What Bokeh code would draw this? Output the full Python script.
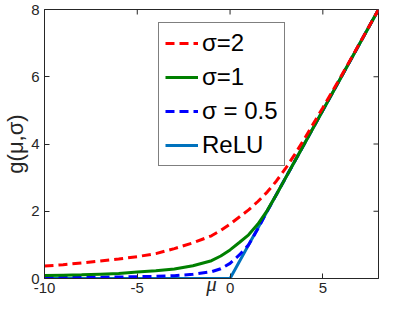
import math
from bokeh.plotting import figure
from bokeh.models import Range1d, FixedTicker, Legend, LegendItem
from bokeh.embed import file_html
from bokeh.resources import INLINE

# ---- data ----
mu = [-10, -9, -8, -7, -6, -5, -4, -3, -2, -1, -0.5, 0, 0.5, 1, 1.5, 2, 2.5, 3, 3.5, 4, 5, 6, 7, 8]
g_sigma2 = [0.37, 0.41, 0.46, 0.52, 0.58, 0.65, 0.74, 0.89, 1.06, 1.27, 1.43, 1.62, 1.83, 2.04, 2.29, 2.57,
            2.90, 3.28, 3.70, 4.15, 5.08, 6.03, 7.01, 8.0]
g_sigma1 = [0.09, 0.10, 0.11, 0.13, 0.15, 0.19, 0.23, 0.28, 0.38, 0.53, 0.67, 0.85, 1.07, 1.30, 1.62, 2.02,
            2.50, 3.0, 3.5, 4.0, 5.0, 6.0, 7.0, 8.0]
g_sigma05 = [0.03, 0.03, 0.035, 0.04, 0.045, 0.055, 0.065, 0.085, 0.125, 0.2, 0.29, 0.45, 0.70, 1.0, 1.48, 2.0,
             2.5, 3.0, 3.5, 4.0, 5.0, 6.0, 7.0, 8.0]
relu_x = [-10, 0, 8]
relu_y = [0, 0, 8]

x_min, x_max = -10, 8
y_min, y_max = 0, 8
x_ticks = [-10, -5, 0, 5]
x_tick_labels = ["-10", "-5", "0", "5"]
y_ticks = [0, 2, 4, 6, 8]
y_tick_labels = ["0", "2", "4", "6", "8"]

legend_labels = ["σ=2", "σ=1", "σ = 0.5", "ReLU"]

AX = "#262626"
FONT = "Liberation Sans"

p = figure(width=380, height=300, x_range=Range1d(x_min, x_max), y_range=Range1d(y_min, y_max),
           output_backend="svg", toolbar_location=None,
           min_border_left=41, min_border_right=2, min_border_top=9, min_border_bottom=22)
p.grid.visible = False
p.outline_line_color = AX
p.outline_line_width = 1
p.background_fill_color = "white"
p.border_fill_color = "white"

# lines
r_relu = p.line(relu_x, relu_y, line_color="#0072BD", line_width=3)
r_b = p.line(mu, g_sigma05, line_color="#0000FF", line_width=3, line_dash="9 5")
r_g = p.line(mu, g_sigma1, line_color="#008000", line_width=3)
r_r = p.line(mu, g_sigma2, line_color="#FF0000", line_width=3, line_dash="9 5")

# inward ticks on top and right box edges (half of each dash clipped by the frame)
p.scatter(x=x_ticks, y=[y_max] * len(x_ticks), marker="dash", angle=math.pi / 2, size=10,
          line_color=AX, line_width=1)
p.scatter(x=[x_max] * len(y_ticks), y=y_ticks, marker="dash", angle=0, size=10,
          line_color=AX, line_width=1)

# axes
xa = p.xaxis[0]
xa.ticker = FixedTicker(ticks=x_ticks)
xa.major_label_overrides = dict(zip(x_ticks, x_tick_labels))
ya = p.yaxis[0]
ya.ticker = FixedTicker(ticks=y_ticks)
ya.major_label_overrides = dict(zip(y_ticks, y_tick_labels))
for a in (xa, ya):
    a.axis_line_color = AX
    a.major_tick_line_color = AX
    a.major_tick_in = 5
    a.major_tick_out = 0
    a.minor_tick_line_color = None
    a.major_label_text_font = FONT
    a.major_label_text_font_size = "15px"
    a.major_label_text_color = AX
xa.major_label_standoff = 4
ya.major_label_standoff = 5

xa.axis_label = "μ"
xa.axis_label_text_font = "Liberation Serif"
xa.axis_label_text_font_style = "italic"
xa.axis_label_text_font_size = "21px"
xa.axis_label_text_color = AX
xa.axis_label_standoff = -24

ya.axis_label = "g(μ,σ)"
ya.axis_label_text_font = FONT
ya.axis_label_text_font_style = "normal"
ya.axis_label_text_font_size = "22px"
ya.axis_label_text_color = AX
ya.axis_label_standoff = 0

legend = Legend(items=[LegendItem(label=legend_labels[0], renderers=[r_r]),
                       LegendItem(label=legend_labels[1], renderers=[r_g]),
                       LegendItem(label=legend_labels[2], renderers=[r_b]),
                       LegendItem(label=legend_labels[3], renderers=[r_relu])],
                location=(114, 112), orientation="vertical",
                border_line_color="black", border_line_width=1,
                background_fill_color="white", background_fill_alpha=1,
                label_text_font=FONT, label_text_font_size="24px", label_text_color="black",
                glyph_width=33, glyph_height=28, label_height=28, spacing=6,
                padding=6, margin=0, label_standoff=4)
p.add_layout(legend)

open("out.html", "w").write(file_html(p, INLINE))
